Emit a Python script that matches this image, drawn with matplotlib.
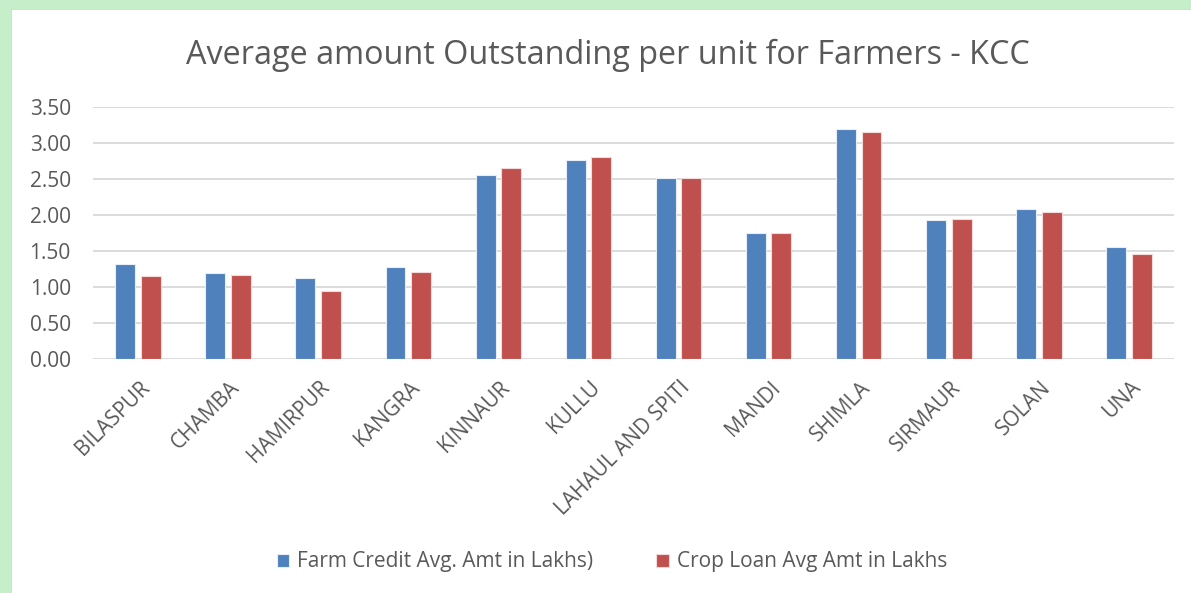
import matplotlib
matplotlib.use("Agg")
import matplotlib.pyplot as plt
import matplotlib.transforms as mtransforms
import numpy as np
from matplotlib.patches import Rectangle

districts = ["BILASPUR", "CHAMBA", "HAMIRPUR", "KANGRA", "KINNAUR", "KULLU",
             "LAHAUL AND SPITI", "MANDI", "SHIMLA", "SIRMAUR", "SOLAN", "UNA"]
farm_credit = [1.32, 1.20, 1.13, 1.28, 2.56, 2.77, 2.51, 1.75, 3.20, 1.93, 2.08, 1.56]
crop_loan = [1.15, 1.17, 0.95, 1.21, 2.65, 2.81, 2.52, 1.75, 3.15, 1.94, 2.04, 1.46]
series_names = ["Farm Credit Avg. Amt in Lakhs)", "Crop Loan Avg Amt in Lakhs"]
y_ticks = [0.0, 0.5, 1.0, 1.5, 2.0, 2.5, 3.0, 3.5]

plt.rcParams['font.family'] = ['Open Sans', 'DejaVu Sans']
TEXT = "#595959"
BLUE = "#4F81BD"
RED = "#C0504D"

W, H = 1191, 593
fig = plt.figure(figsize=(W / 100, H / 100), dpi=100)

# green frame along the top and left edges
fig.patches.append(Rectangle((0, 0), 1, 1, transform=fig.transFigure,
                             facecolor="#C4EFC9", edgecolor="none", zorder=-3))
fig.patches.append(Rectangle((11 / W, 0), 1, 1 - 9 / H, transform=fig.transFigure,
                             facecolor="#D9D9D9", edgecolor="none", zorder=-2))
fig.patches.append(Rectangle((12 / W, 0), 1, 1 - 10 / H, transform=fig.transFigure,
                             facecolor="white", edgecolor="none", zorder=-1))

left, right = 93 / W, 1174 / W
bottom, top = 1 - 359 / H, 1 - 107 / H
ax = fig.add_axes([left, bottom, right - left, top - bottom])
ax.set_facecolor("none")

x = np.arange(len(districts))
bw = 0.222
off = 0.142
ax.bar(x - off, farm_credit, bw, color=BLUE, edgecolor="#E8EEF7", linewidth=0.8,
       label=series_names[0], zorder=3)
ax.bar(x + off, crop_loan, bw, color=RED, edgecolor="#F4DADA", linewidth=0.8,
       label=series_names[1], zorder=3)

ax.set_xlim(-0.5, len(districts) - 0.5)
ax.set_ylim(0, 3.5)
ax.set_yticks(y_ticks)
ax.set_yticklabels([f"{v:.2f}" for v in y_ticks], fontsize=15, color=TEXT)
ax.yaxis.grid(True, color="#D9D9D9", linewidth=1.3, zorder=0)
ax.set_axisbelow(True)
ax.tick_params(axis="y", length=0, pad=16)
ax.tick_params(axis="x", length=0)
for s in ax.spines.values():
    s.set_visible(False)

ax.set_xticks(x)
ax.set_xticklabels(districts, rotation=45, ha="right", va="top",
                   rotation_mode="anchor", fontsize=15, color=TEXT)
shift = mtransforms.ScaledTranslation(1 / 100, -13 / 100, fig.dpi_scale_trans)
for lbl in ax.get_xticklabels():
    lbl.set_transform(lbl.get_transform() + shift)

fig.text(608 / W, 1 - 55 / H, "Average amount Outstanding per unit for Farmers - KCC",
         ha="center", va="center", fontsize=23.3, color=TEXT)

leg = fig.legend(loc="center", bbox_to_anchor=(612 / W, 1 - 562 / H), ncol=2,
                 frameon=False, fontsize=15, handlelength=0.6, handleheight=0.6,
                 handletextpad=0.4, columnspacing=3.0)
for t in leg.get_texts():
    t.set_color(TEXT)

fig.savefig("out.png", dpi=100)
